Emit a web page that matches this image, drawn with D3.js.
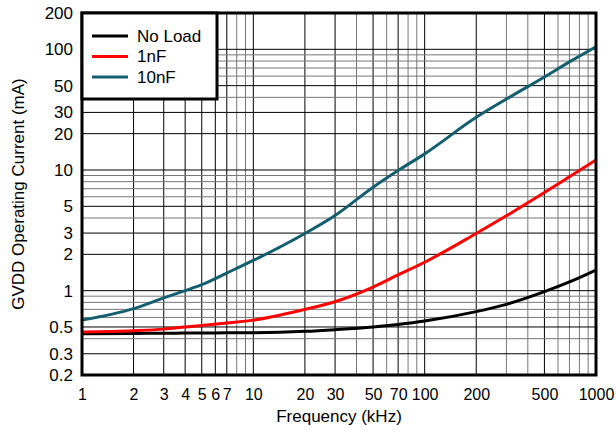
<!DOCTYPE html>
<html>
<head>
<meta charset="utf-8">
<script src="https://d3js.org/d3.v7.min.js"></script>
<style>
  body { margin: 0; background: #fff; }
  svg text { font-family: "Liberation Sans", Arial, sans-serif; fill: #000; }
</style>
</head>
<body>
<div id="chart"></div>
<script>
// data
var freq = [1, 2, 3, 4, 5, 7, 10, 20, 30, 50, 70, 100, 200, 300, 500, 700, 1000];
var noLoad = [0.44, 0.442, 0.444, 0.445, 0.446, 0.447, 0.448, 0.46, 0.475, 0.50, 0.525, 0.56, 0.67, 0.77, 0.98, 1.18, 1.48];
var load1nF = [0.455, 0.466, 0.48, 0.50, 0.515, 0.54, 0.57, 0.70, 0.81, 1.07, 1.35, 1.72, 2.98, 4.17, 6.5, 8.8, 12.1];
var load10nF = [0.57, 0.71, 0.87, 1.0, 1.12, 1.40, 1.78, 2.98, 4.2, 7.2, 9.9, 13.6, 27.3, 38.7, 59, 78.7, 105];
var seriesNames = ["No Load", "1nF", "10nF"];
var seriesColors = ["#000000", "#ff0000", "#135e6f"];
var xTickLabels = [1, 2, 3, 4, 5, 6, 7, 10, 20, 30, 50, 70, 100, 200, 500, 1000];
var yTickLabels = [0.2, 0.3, 0.5, 1, 2, 3, 5, 10, 20, 30, 50, 100, 200];

var width = 616, height = 432;
var margin = {left: 82, right: 20, top: 13, bottom: 57};

var svg = d3.select("#chart").append("svg")
    .attr("width", width)
    .attr("height", height);

var x = d3.scaleLog().domain([1, 1000]).range([margin.left, width - margin.right]);
var y = d3.scaleLog().domain([0.2, 200]).range([height - margin.bottom, margin.top]);

// grid lines: every 1..9 of each decade
var xGrid = [], yGrid = [];
[1, 10, 100].forEach(function(d) {
  for (var i = 1; i <= 9; i++) xGrid.push(d * i);
});
xGrid.push(1000);
[0.1, 1, 10, 100].forEach(function(d) {
  for (var i = 1; i <= 9; i++) {
    var v = +(d * i).toPrecision(3);
    if (v >= 0.2 && v <= 200) yGrid.push(v);
  }
});

var grid = svg.append("g");
grid.selectAll(".vx").data(xGrid).enter().append("line")
    .attr("x1", function(d) { return x(d); })
    .attr("x2", function(d) { return x(d); })
    .attr("y1", y(0.2)).attr("y2", y(200))
    .attr("stroke", function(d) { return xTickLabels.indexOf(d) >= 0 ? "#000" : "#777"; })
    .attr("stroke-width", 1);
grid.selectAll(".hy").data(yGrid).enter().append("line")
    .attr("y1", function(d) { return y(d); })
    .attr("y2", function(d) { return y(d); })
    .attr("x1", x(1)).attr("x2", x(1000))
    .attr("stroke", function(d) { return yTickLabels.indexOf(d) >= 0 ? "#000" : "#777"; })
    .attr("stroke-width", 1);

// axes (labels only)
var xAxis = d3.axisBottom(x).tickValues(xTickLabels).tickFormat(d3.format("d")).tickSize(0).tickPadding(14);
svg.append("g")
    .attr("transform", "translate(0," + y(0.2) + ")")
    .call(xAxis)
    .call(function(g) { g.select(".domain").remove(); })
    .selectAll("text").style("font-size", "16px");

var yAxis = d3.axisLeft(y).tickValues(yTickLabels).tickFormat(function(d) { return d; }).tickSize(0).tickPadding(9);
svg.append("g")
    .attr("transform", "translate(" + x(1) + ",0)")
    .call(yAxis)
    .call(function(g) { g.select(".domain").remove(); })
    .selectAll("text").style("font-size", "17px");

// series
var series = [noLoad, load1nF, load10nF];
var line = d3.line()
    .x(function(d, i) { return x(freq[i]); })
    .y(function(d) { return y(d); })
    .curve(d3.curveMonotoneX);

svg.append("defs").append("clipPath").attr("id", "clip")
  .append("rect")
    .attr("x", x(1)).attr("y", y(200))
    .attr("width", x(1000) - x(1)).attr("height", y(0.2) - y(200));

svg.append("g").attr("clip-path", "url(#clip)")
  .selectAll(".series").data(series).enter().append("path")
    .attr("d", line)
    .attr("fill", "none")
    .attr("stroke", function(d, i) { return seriesColors[i]; })
    .attr("stroke-width", 3);

// frame
svg.append("rect")
    .attr("x", x(1)).attr("y", y(200))
    .attr("width", x(1000) - x(1)).attr("height", y(0.2) - y(200))
    .attr("fill", "none").attr("stroke", "#000").attr("stroke-width", 3);

// legend
var legend = svg.append("g");
legend.append("rect")
    .attr("x", x(1)).attr("y", y(200))
    .attr("width", 135).attr("height", 86)
    .attr("fill", "#fff").attr("stroke", "#000").attr("stroke-width", 3);
var items = legend.selectAll(".item").data(seriesNames).enter().append("g")
    .attr("transform", function(d, i) { return "translate(" + (x(1) + 10) + "," + (36 + i * 20.5) + ")"; });
items.append("line")
    .attr("x1", 0).attr("x2", 36)
    .attr("stroke", function(d, i) { return seriesColors[i]; })
    .attr("stroke-width", 3);
items.append("text")
    .attr("x", 45).attr("dy", "0.35em")
    .style("font-size", "17px")
    .text(function(d) { return d; });

// axis titles
svg.append("text")
    .attr("x", (x(1) + x(1000)) / 2).attr("y", 422)
    .attr("text-anchor", "middle")
    .style("font-size", "17px")
    .text("Frequency (kHz)");
svg.append("text")
    .attr("transform", "translate(24," + ((y(0.2) + y(200)) / 2) + ") rotate(-90)")
    .attr("text-anchor", "middle")
    .style("font-size", "17px")
    .text("GVDD Operating Current (mA)");
</script>
</body>
</html>
